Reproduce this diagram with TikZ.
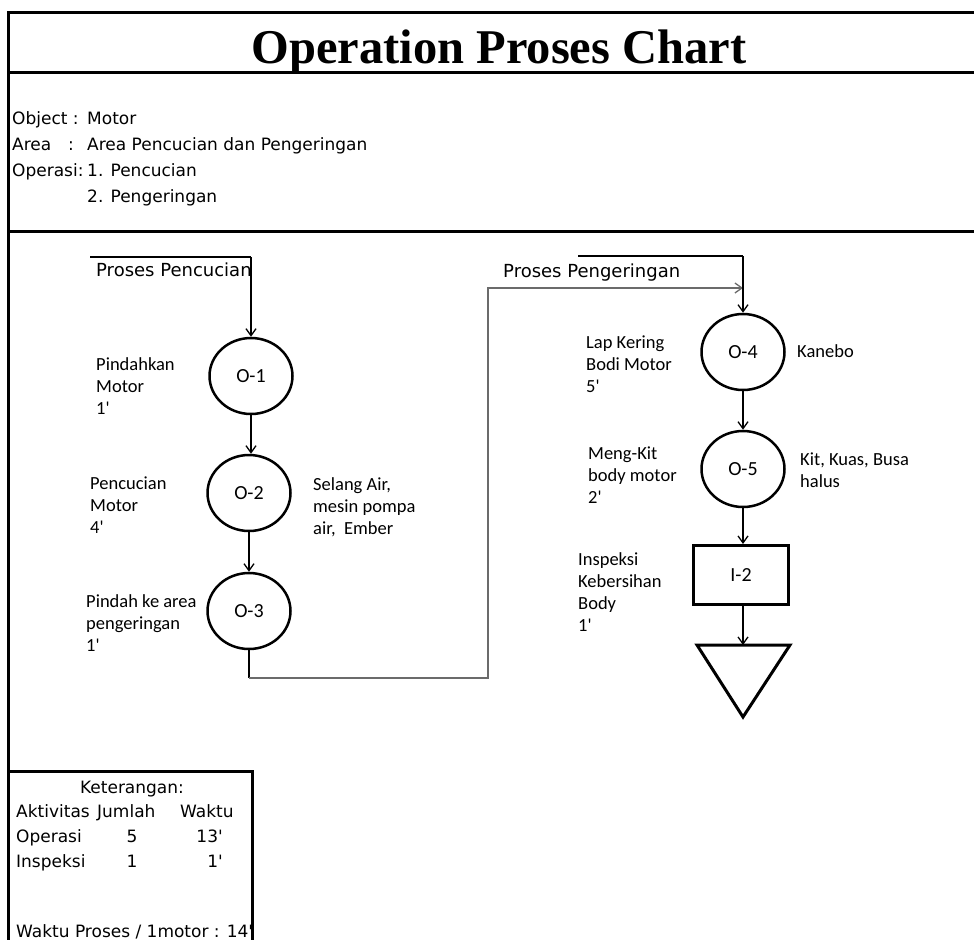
\documentclass[tikz,border=0pt]{standalone}
\usepackage{fontspec}
\setmainfont{Liberation Serif}
\newfontfamily\lblfont{Carlito}
\newfontfamily\msfont{DejaVu Sans}
\usetikzlibrary{shapes.geometric,arrows.meta}
\begin{document}
\begin{tikzpicture}[x=1pt,y=-1pt,
  frame/.style={line width=3pt,black},
  opnode/.style={ellipse,draw,line width=2.5pt,minimum width=83pt,minimum height=76pt,inner sep=0pt,font=\lblfont\fontsize{20}{24}\selectfont},
  inspbox/.style={rectangle,draw,line width=3pt,minimum width=95pt,minimum height=59pt,inner sep=0pt,font=\lblfont\fontsize{20}{24}\selectfont},
  flow/.style={line width=1.5pt,-{Straight Barb[length=7pt,width=10pt,line width=1.3pt]}},
  plainline/.style={line width=1.5pt},
  graylink/.style={line width=2.5pt,draw=black!58},
  lbl/.style={anchor=north west,inner sep=0pt,align=left,font=\lblfont\fontsize{18.5}{22}\selectfont},
  info/.style={anchor=base west,inner sep=0pt,font=\msfont\fontsize{17}{20}\selectfont},
  infoc/.style={anchor=base,inner sep=0pt,font=\msfont\fontsize{17}{20}\selectfont},
  procl/.style={anchor=base west,inner sep=0pt,font=\msfont\fontsize{18}{20}\selectfont},
]
\useasboundingbox (0,0) rectangle (974,940);
% frame
\draw[frame] (974,12) -- (8.5,12) -- (8.5,940);
\draw[frame] (8.5,72) -- (974,72);
\draw[frame] (8.5,231) -- (974,231);
\draw[frame] (8.5,771) -- (252,771) -- (252,940);
% title
\node[anchor=base,inner sep=0pt,font=\bfseries\fontsize{48.5}{52}\selectfont] (title) at (499,63) {Operation Proses Chart};
% info block
\node[info] (objk) at (12,124) {Object :};
\node[info] (objv) at (87,124) {Motor};
\node[info] (areak) at (12,150) {Area};
\node[info] (areac) at (68,150) {:};
\node[info] (areav) at (87,150) {Area Pencucian dan Pengeringan};
\node[info] (opk) at (12,176) {Operasi:};
\node[info] (opv1) at (87,176) {1. Pencucian};
\node[info] (opv2) at (87,202) {2. Pengeringan};
% left process
\node[procl] (pp1) at (96,276) {Proses Pencucian};
\coordinate (p1s) at (90,257);
\coordinate (p1c) at (251,257);
\node[opnode] (o1) at (251,376) {O-1};
\node[opnode] (o2) at (249,493) {O-2};
\node[opnode] (o3) at (249,611) {O-3};
\draw[plainline] (p1s) -- (p1c);
\draw[flow] (p1c) -- (o1.north);
\draw[flow] (o1.south) -- (o1.south |- o2.north);
\draw[flow] (o2.south) -- (o3.north);
\node[lbl] (l1) at (96,357) {Pindahkan\\Motor\\1'};
\node[lbl] (l2) at (90,477) {Pencucian\\Motor\\4'};
\node[lbl] (l3) at (86,594) {Pindah ke area\\pengeringan\\1'};
\node[lbl] (r2) at (313,477) {Selang Air,\\mesin pompa\\air,\ \ Ember};
% link
\coordinate (c1) at (249,678);
\coordinate (c2) at (488,678);
\coordinate (c3) at (488,288);
\coordinate (c4) at (743,288);
\draw[plainline] (o3.south) -- (c1);
\draw[graylink,line join=miter,-{Straight Barb[length=7pt,width=10pt,line width=1.3pt]}] (c1) -- (c2) -- (c3) -- (c4);
% right process
\node[procl] (pp2) at (503,277) {Proses Pengeringan};
\coordinate (p2s) at (578,256);
\coordinate (p2c) at (743,256);
\node[opnode] (o4) at (743,352) {O-4};
\node[opnode] (o5) at (743,469) {O-5};
\node[inspbox] (i2) at (741,575) {I-2};
\coordinate (tri) at (743,645);
\draw[line width=3pt,line join=miter] (697,645) -- (790,645) -- (743,717) -- cycle;
\draw[plainline] (p2s) -- (p2c);
\draw[flow] (p2c) -- (o4.north);
\draw[flow] (o4.south) -- (o5.north);
\draw[flow] (o5.south) -- (o5.south |- i2.north);
\draw[flow] (o5.south |- i2.south) -- (tri);
\node[lbl] (l4) at (586,336) {Lap Kering\\Bodi Motor\\5'};
\node[lbl] (r4) at (797,344) {Kanebo};
\node[lbl] (l5) at (588,447) {Meng-Kit\\body motor\\2'};
\node[lbl] (r5) at (800,453) {Kit, Kuas, Busa\\halus};
\node[lbl] (l6) at (578,552) {Inspeksi\\Kebersihan\\Body\\1'};
% legend
\node[infoc] (ket) at (132,793) {Keterangan:};
\node[info] (ha) at (16,817) {Aktivitas};
\node[info] (hj) at (97,817) {Jumlah};
\node[info] (hw) at (180,817) {Waktu};
\node[info] (ro) at (16,842) {Operasi};
\node[infoc] (rn) at (132,842) {5};
\node[info,anchor=base east] (rw) at (223,842) {13'};
\node[info] (ri) at (16,867) {Inspeksi};
\node[infoc] (rin) at (132,867) {1};
\node[info,anchor=base east] (riw) at (223,867) {1'};
\node[info] (tot) at (16,937) {Waktu Proses / 1motor : 14'};
\end{tikzpicture}
\end{document}
